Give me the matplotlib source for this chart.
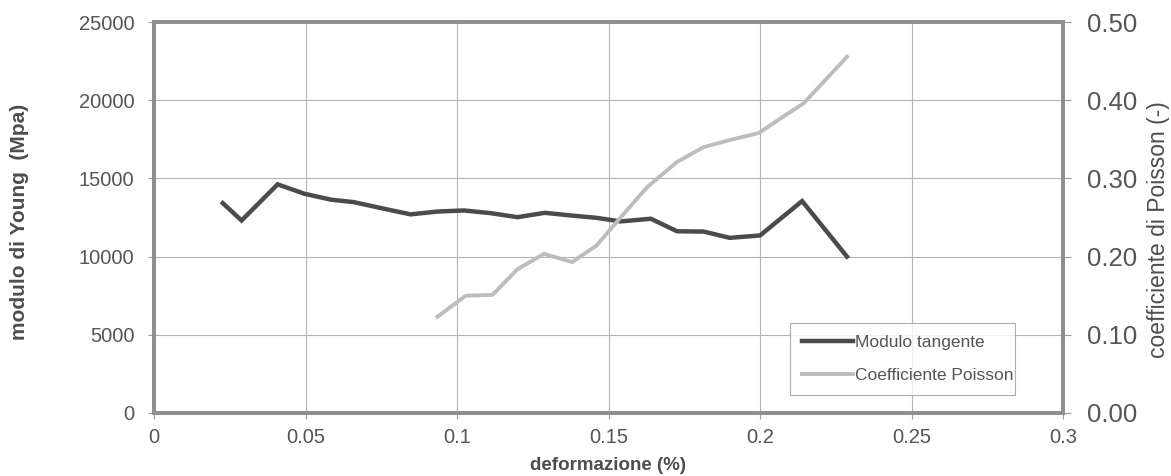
import numpy as np
import matplotlib
matplotlib.use('Agg')
import matplotlib.pyplot as plt

plt.rcParams['font.family'] = ['Liberation Sans', 'DejaVu Sans']

# modulo tangente (Mpa) vs deformazione (%)
x_mod = [0.0227, 0.0289, 0.0408, 0.0496, 0.0584, 0.066, 0.0759, 0.0847,
         0.0935, 0.1023, 0.111, 0.12, 0.129, 0.1375, 0.146, 0.154, 0.164,
         0.1726, 0.1814, 0.190, 0.200, 0.2139, 0.2287]
y_mod = [13420, 12310, 14620, 14020, 13640, 13480, 13060, 12700,
         12880, 12950, 12780, 12520, 12800, 12630, 12480, 12250, 12420,
         11620, 11600, 11200, 11350, 13550, 10000]

# coefficiente di Poisson (-)
x_poi = [0.0935, 0.1029, 0.1117, 0.12, 0.1287, 0.138, 0.146, 0.154, 0.1628,
         0.1726, 0.1814, 0.190, 0.1996, 0.2067, 0.2144, 0.2287]
y_poi = [0.123, 0.150, 0.151, 0.184, 0.2035, 0.193, 0.214, 0.250, 0.289,
         0.321, 0.340, 0.349, 0.358, 0.3765, 0.396, 0.4555]

xticks = [0, 0.05, 0.1, 0.15, 0.2, 0.25, 0.3]
xticklabels = ['0', '0.05', '0.1', '0.15', '0.2', '0.25', '0.3']
yticks_left = [0, 5000, 10000, 15000, 20000, 25000]
yticks_right = [0.0, 0.1, 0.2, 0.3, 0.4, 0.5]
yticklabels_right = ['0.00', '0.10', '0.20', '0.30', '0.40', '0.50']

txt = '#555555'
spine_col = '#8e8e8e'

fig = plt.figure(figsize=(11.71, 4.76), dpi=100)
ax = fig.add_axes([154/1171, 1-413/476, 909/1171, 391/476])
ax2 = ax.twinx()

l1, = ax.plot(x_mod, y_mod, color='#4b4b4b', lw=3.2, solid_joinstyle='miter',
              label='Modulo tangente', zorder=3)
l2, = ax2.plot(x_poi, y_poi, color='#bdbdbd', lw=2.8, label='Coefficiente Poisson',
               zorder=3)

ax.set_xlim(0, 0.3)
ax.set_ylim(0, 25000)
ax2.set_ylim(0, 0.5)
ax.set_xticks(xticks)
ax.set_xticklabels(xticklabels)
ax.set_yticks(yticks_left)
ax.set_yticklabels([str(v) for v in yticks_left])
ax2.set_yticks(yticks_right)
ax2.set_yticklabels(yticklabels_right)

ax.grid(True, color='#b4b4b4', lw=0.8)
ax.set_axisbelow(True)

ax.tick_params(axis='x', direction='out', length=4, width=0.8, color='#999999',
               labelsize=14.5, labelcolor=txt, pad=7)
ax.tick_params(axis='y', direction='out', length=4, width=0.8, color='#999999',
               labelsize=14.5, labelcolor=txt, pad=10)
ax2.tick_params(axis='y', direction='out', length=6, width=0.8, color='#999999',
                labelsize=18.5, labelcolor=txt, pad=11)

for a in (ax, ax2):
    for s in a.spines.values():
        s.set_color(spine_col)
        s.set_linewidth(2.6)

fig.text(20/1171, 1-222/476, 'modulo di Young  (Mpa)', rotation=90, ha='center',
         va='center', fontsize=15, fontweight='bold', color='#4d4d4d')
fig.text(1158/1171, 1-230/476, 'coefficiente di Poisson (-)', rotation=90,
         ha='center', va='center', fontsize=16.5, color='#4d4d4d')
fig.text(608/1171, 1-466/476, 'deformazione (%)', ha='center', va='center',
         fontsize=13.5, fontweight='bold', color='#4d4d4d')

leg = ax2.legend(handles=[l1, l2], loc='lower left',
                 bbox_to_anchor=(0.70, 0.046, 0.247, 0.199), mode='expand',
                 fontsize=12.5, frameon=True, fancybox=False, handlelength=2.9,
                 handletextpad=0.15, borderpad=0.7, labelspacing=1.0,
                 borderaxespad=0)
leg.get_frame().set_edgecolor('#9a9a9a')
leg.get_frame().set_linewidth(0.8)
for t in leg.get_texts():
    t.set_color('#555555')

fig.savefig('out.png', dpi=100)
